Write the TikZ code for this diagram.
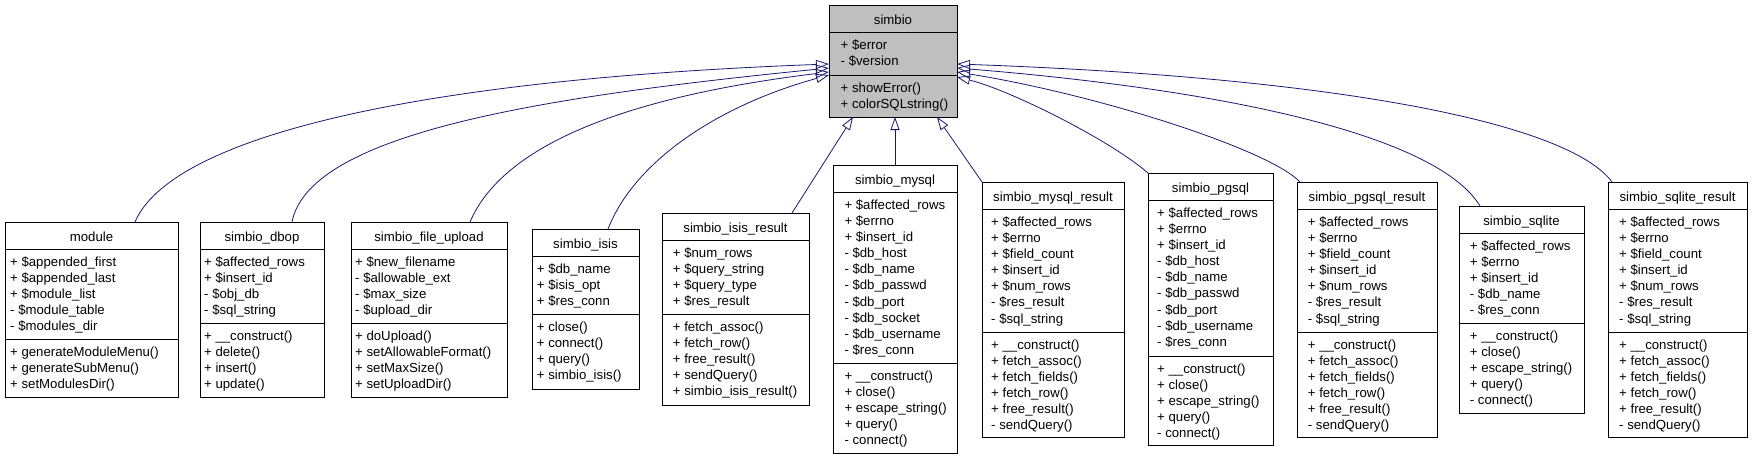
\documentclass[tikz,border=0pt]{standalone}
\usepackage{fontspec}
\setmainfont{Liberation Sans}
\usetikzlibrary{arrows.meta,fit}
\definecolor{edgeblue}{RGB}{25,25,112}
\definecolor{basegray}{RGB}{191,191,191}
\tikzset{
  classbox/.style={draw=black, line width=1pt, fill=white, inner sep=0pt, outer sep=0pt},
  sepline/.style={draw=black, line width=1pt},
  classtext/.style={inner sep=0pt, font=\fontsize{13.2}{16.14}\selectfont},
  inherit/.style={draw=edgeblue, line width=0.8pt, -{Triangle[open, length=13pt, width=9pt]}},
}
% #1 name, #2 left, #3 top, #4 right, #5 bottom, #6 second separator, #7 text padding, #8 title, #9 attributes
\newcommand\umlclass[9]{%
  \node[classbox, fit={(#2,#3) (#4,#5)}] (#1) {};
  \draw[sepline] (#2,{#3+27}) -- (#4,{#3+27});
  \draw[sepline] (#2,#6) -- (#4,#6);
  \node[classtext, anchor=base] (#1-title) at ({(#2+#4)/2},{#3+19.5}) {#8};
  \node[classtext, anchor=north west] (#1-attr) at ({#2+#7},{#3+32.7}) {\begin{tabular}{@{}l@{}}#9\end{tabular}};
  \def\clsX{#2+#7}\def\clsY{#6+5.7}\def\clsN{#1}}
\newcommand\umlmethods[1]{%
  \node[classtext, anchor=north west] (\clsN-meth) at ({\clsX},{\clsY}) {\begin{tabular}{@{}l@{}}#1\end{tabular}};}
\begin{document}
\begin{tikzpicture}[x=1pt,y=-1pt]
\useasboundingbox (0,0) rectangle (1752,458);

\begin{scope}[classbox/.append style={fill=basegray}]
\umlclass{simbio}{829}{5}{957}{117}{75}{11.5}{simbio}{+ \$error\\- \$version}
\umlmethods{+ showError()\\+ colorSQLstring()}
\end{scope}

\umlclass{module}{5}{222}{178}{397}{339}{5}{module}%
{+ \$appended\_first\\+ \$appended\_last\\+ \$module\_list\\- \$module\_table\\- \$modules\_dir}
\umlmethods{+ generateModuleMenu()\\+ generateSubMenu()\\+ setModulesDir()}

\umlclass{dbop}{200}{222}{324}{397}{323}{4}{simbio\_dbop}%
{+ \$affected\_rows\\+ \$insert\_id\\- \$obj\_db\\- \$sql\_string}
\umlmethods{+ \_\_construct()\\+ delete()\\+ insert()\\+ update()}

\umlclass{fileupload}{351}{222}{507}{397}{323}{4}{simbio\_file\_upload}%
{+ \$new\_filename\\- \$allowable\_ext\\- \$max\_size\\- \$upload\_dir}
\umlmethods{+ doUpload()\\+ setAllowableFormat()\\+ setMaxSize()\\+ setUploadDir()}

\umlclass{isis}{532}{229}{639}{389}{314}{4.7}{simbio\_isis}%
{+ \$db\_name\\+ \$isis\_opt\\+ \$res\_conn}
\umlmethods{+ close()\\+ connect()\\+ query()\\+ simbio\_isis()}

\umlclass{isisresult}{662}{213}{809}{405}{314}{10.7}{simbio\_isis\_result}%
{+ \$num\_rows\\+ \$query\_string\\+ \$query\_type\\+ \$res\_result}
\umlmethods{+ fetch\_assoc()\\+ fetch\_row()\\+ free\_result()\\+ sendQuery()\\+ simbio\_isis\_result()}

\umlclass{mysql}{833}{165}{957}{453}{363}{11.3}{simbio\_mysql}%
{+ \$affected\_rows\\+ \$errno\\+ \$insert\_id\\- \$db\_host\\- \$db\_name\\- \$db\_passwd\\- \$db\_port\\- \$db\_socket\\- \$db\_username\\- \$res\_conn}
\umlmethods{+ \_\_construct()\\+ close()\\+ escape\_string()\\+ query()\\- connect()}

\umlclass{mysqlresult}{982}{182}{1124}{437}{332}{9}{simbio\_mysql\_result}%
{+ \$affected\_rows\\+ \$errno\\+ \$field\_count\\+ \$insert\_id\\+ \$num\_rows\\- \$res\_result\\- \$sql\_string}
\umlmethods{+ \_\_construct()\\+ fetch\_assoc()\\+ fetch\_fields()\\+ fetch\_row()\\+ free\_result()\\- sendQuery()}

\umlclass{pgsql}{1148}{173}{1273}{445}{356}{9}{simbio\_pgsql}%
{+ \$affected\_rows\\+ \$errno\\+ \$insert\_id\\- \$db\_host\\- \$db\_name\\- \$db\_passwd\\- \$db\_port\\- \$db\_username\\- \$res\_conn}
\umlmethods{+ \_\_construct()\\+ close()\\+ escape\_string()\\+ query()\\- connect()}

\umlclass{pgsqlresult}{1297}{182}{1437}{437}{332}{10.7}{simbio\_pgsql\_result}%
{+ \$affected\_rows\\+ \$errno\\+ \$field\_count\\+ \$insert\_id\\+ \$num\_rows\\- \$res\_result\\- \$sql\_string}
\umlmethods{+ \_\_construct()\\+ fetch\_assoc()\\+ fetch\_fields()\\+ fetch\_row()\\+ free\_result()\\- sendQuery()}

\umlclass{sqlite}{1459}{206}{1584}{413}{323}{10.7}{simbio\_sqlite}%
{+ \$affected\_rows\\+ \$errno\\+ \$insert\_id\\- \$db\_name\\- \$res\_conn}
\umlmethods{+ \_\_construct()\\+ close()\\+ escape\_string()\\+ query()\\- connect()}

\umlclass{sqliteresult}{1608}{182}{1747}{437}{332}{11}{simbio\_sqlite\_result}%
{+ \$affected\_rows\\+ \$errno\\+ \$field\_count\\+ \$insert\_id\\+ \$num\_rows\\- \$res\_result\\- \$sql\_string}
\umlmethods{+ \_\_construct()\\+ fetch\_assoc()\\+ fetch\_fields()\\+ fetch\_row()\\+ free\_result()\\- sendQuery()}

% inheritance edges
\draw[inherit] ([xshift=43.5pt]module.north) .. controls (170,140) and (400,80) .. ([yshift=-3pt]simbio.west);
\draw[inherit] ([xshift=30pt]dbop.north) .. controls (310,130) and (560,95) .. ([yshift=-7pt]simbio.west);
\draw[inherit] ([xshift=41pt]fileupload.north) .. controls (505,140) and (640,95) .. ([yshift=-11pt]simbio.west);
\draw[inherit] ([xshift=22.5pt]isis.north) .. controls (635,160) and (720,105) .. ([yshift=-14pt]simbio.west);
\draw[inherit] ([xshift=56.5pt]isisresult.north) -- ([xshift=-40pt]simbio.south);
\draw[inherit] (mysql.north) -- (mysql.north |- simbio.south);
\draw[inherit] (mysqlresult.north west) -- ([xshift=44pt]simbio.south);
\draw[inherit] (pgsql.north west) .. controls (1110,140) and (1010,90) .. ([yshift=-16pt]simbio.east);
\draw[inherit] ([xshift=3pt]pgsqlresult.north west) .. controls (1270,150) and (1100,95) .. ([yshift=-11pt]simbio.east);
\draw[inherit] ([xshift=21pt]sqlite.north west) .. controls (1440,140) and (1250,92) .. ([yshift=-7pt]simbio.east);
\draw[inherit] ([xshift=4pt]sqliteresult.north west) .. controls (1570,125) and (1350,78) .. ([yshift=-3pt]simbio.east);
\end{tikzpicture}
\end{document}
